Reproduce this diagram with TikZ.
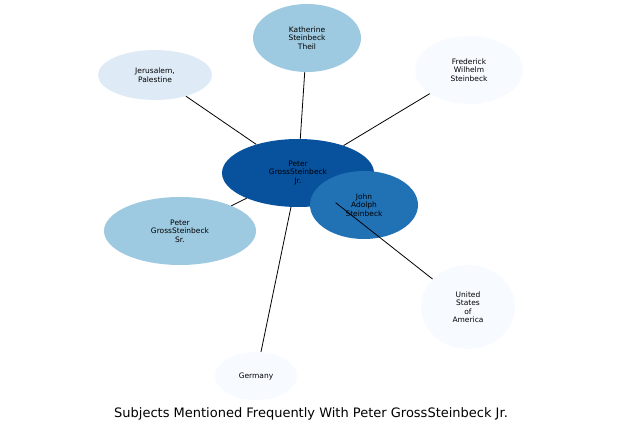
\documentclass[tikz,border=0pt]{standalone}
\usepackage{fontspec}
\setmainfont{DejaVu Sans}
\usetikzlibrary{shapes.geometric}
\definecolor{c1}{HTML}{08519C}
\definecolor{c2}{HTML}{2171B5}
\definecolor{c3}{HTML}{9ECAE1}
\definecolor{c4}{HTML}{DEEBF7}
\definecolor{c5}{HTML}{F7FBFF}
\begin{document}
\begin{tikzpicture}[x=1pt,y=-1pt,
  ent/.style={ellipse,inner sep=0pt,align=center,font=\fontsize{7.5}{8.5}\selectfont},
  edge/.style={draw=black,line width=0.8pt}]
\useasboundingbox (0,0) rectangle (623,436);
\node[ent,fill=c3,minimum width=108,minimum height=68] (kat) at (307,38) {Katherine\\Steinbeck\\Theil};
\node[ent,fill=c4,minimum width=114,minimum height=50] (jer) at (155,75) {Jerusalem,\\Palestine};
\node[ent,fill=c5,minimum width=108,minimum height=68] (fre) at (469,70) {Frederick\\Wilhelm\\Steinbeck};
\node[ent,fill=c3,minimum width=152,minimum height=68] (sr) at (180,231) {Peter\\GrossSteinbeck\\Sr.};
\node[ent,fill=c5,minimum width=94,minimum height=84] (us) at (468,307) {United\\States\\of\\America};
\node[ent,fill=c5,minimum width=82,minimum height=48] (ger) at (256,376) {Germany};
\node[ent,fill=c1,minimum width=152,minimum height=68] (jr) at (298,173) {Peter\\GrossSteinbeck\\Jr.};
\node[ent,fill=c2,minimum width=108,minimum height=68] (john) at (364,205) {John\\Adolph\\Steinbeck};
\draw[edge] (jr) -- (kat);
\draw[edge] (jr) -- (jer);
\draw[edge] (jr) -- (fre);
\draw[edge] (jr) -- (sr);
\draw[edge] (jr) -- (ger);
\draw[edge] (jr) -- (us);
\node[font=\rmfamily\fontsize{13}{15}\selectfont,inner sep=0] (title) at (311,414) {Subjects Mentioned Frequently With Peter GrossSteinbeck Jr.};
\end{tikzpicture}
\end{document}
